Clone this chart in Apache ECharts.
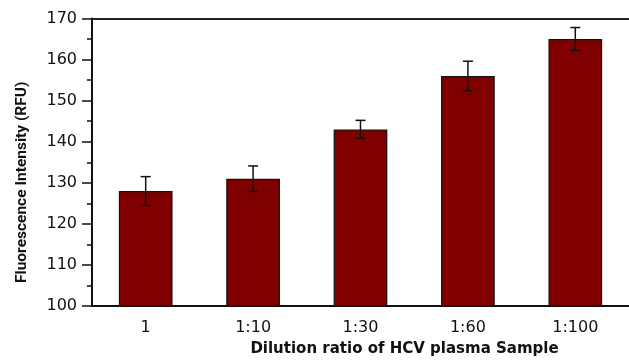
<!DOCTYPE html>
<html>
<head>
<meta charset="utf-8">
<script src="https://cdn.jsdelivr.net/npm/echarts@6/dist/echarts.min.js"></script>
<style>
html,body{margin:0;padding:0;background:#fff;}
#chart{width:629px;height:362px;}
</style>
</head>
<body>
<div id="chart"></div>
<script>
const categories = ['1', '1:10', '1:30', '1:60', '1:100'];
const values = [128, 131, 143, 156, 165];
const errors = [3.5, 3.1, 2.2, 3.6, 2.8];
const yTicks = [100, 110, 120, 130, 140, 150, 160, 170];

const errData = values.map((v, i) => [i, v - errors[i], v + errors[i]]);

const chart = echarts.init(document.getElementById('chart'));
chart.setOption({
  animation: false,
  backgroundColor: '#ffffff',
  grid: { left: 92, right: -3, top: 18.5, bottom: 46, containLabel: false },
  xAxis: [{
    type: 'category',
    data: categories,
    position: 'bottom',
    axisLine: { lineStyle: { color: '#111', width: 2 } },
    axisTick: { show: false },
    axisLabel: { color: '#111', fontFamily: 'DejaVu Sans', fontSize: 16, margin: 14 },
    name: 'Dilution ratio of HCV plasma Sample',
    nameLocation: 'middle',
    nameGap: 36,
    nameTextStyle: { color: '#111', fontFamily: 'DejaVu Sans', fontWeight: 'bold', fontSize: 15, padding: [0, 0, 0, 88] }
  }, {
    type: 'category',
    data: categories,
    position: 'top',
    axisLine: { lineStyle: { color: '#222', width: 2 } },
    axisTick: { show: false },
    axisLabel: { show: false }
  }],
  yAxis: {
    type: 'value',
    min: yTicks[0],
    max: yTicks[yTicks.length - 1],
    interval: 10,
    axisLine: { show: true, lineStyle: { color: '#111', width: 2 } },
    axisTick: { show: true, inside: false, length: 10, lineStyle: { color: '#111', width: 1.5 } },
    minorTick: { show: true, splitNumber: 2, length: 5, lineStyle: { color: '#111', width: 1.5 } },
    splitLine: { show: false },
    axisLabel: { color: '#111', fontFamily: 'DejaVu Sans', fontSize: 16, margin: 15 },
    name: 'Fluorescence Intensity (RFU)',
    nameLocation: 'middle',
    nameGap: 62,
    nameRotate: 90,
    nameTextStyle: { color: '#111', fontFamily: 'Roboto', fontWeight: 'bold', fontSize: 15.5, padding: [0, 40, 0, 0] }
  },
  series: [{
    type: 'bar',
    data: values,
    barWidth: '50%',
    itemStyle: { color: '#800000', borderColor: '#111', borderWidth: 1.2 }
  }, {
    type: 'custom',
    data: errData,
    z: 10,
    renderItem: function (params, api) {
      const i = api.value(0);
      const lo = api.coord([i, api.value(1)]);
      const hi = api.coord([i, api.value(2)]);
      const cap = 5;
      const style = { stroke: '#111', lineWidth: 1.5 };
      return {
        type: 'group',
        children: [
          { type: 'line', shape: { x1: lo[0], y1: lo[1], x2: hi[0], y2: hi[1] }, style: style },
          { type: 'line', shape: { x1: hi[0] - cap, y1: hi[1], x2: hi[0] + cap, y2: hi[1] }, style: style },
          { type: 'line', shape: { x1: lo[0] - cap, y1: lo[1], x2: lo[0] + cap, y2: lo[1] }, style: style }
        ]
      };
    }
  }]
});
</script>
</body>
</html>
